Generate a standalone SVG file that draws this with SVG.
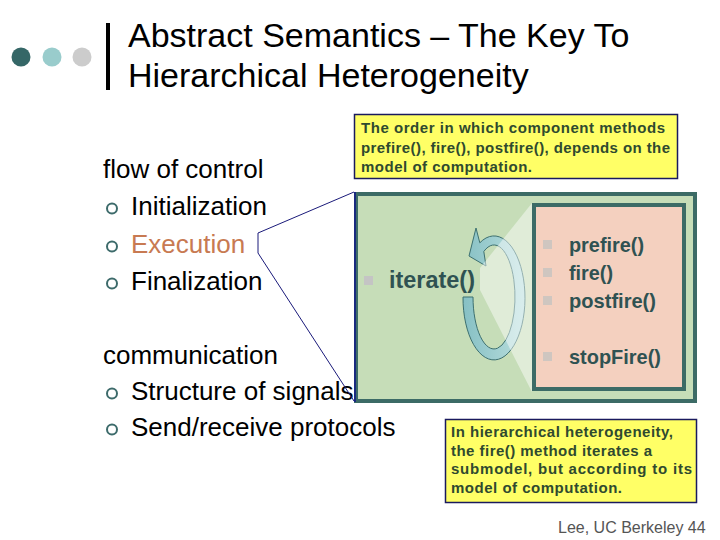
<svg xmlns="http://www.w3.org/2000/svg" width="720" height="540" viewBox="0 0 720 540">
<defs>
<style>
.title{font-family:"Liberation Sans",Arial,sans-serif;font-size:34px;fill:#000}
.body{font-family:"Liberation Sans",Arial,sans-serif;font-size:26px;fill:#000}
.note{font-family:"Liberation Sans",Arial,sans-serif;font-size:15px;font-weight:bold;fill:#2f4a2f}
.meth{font-family:"Liberation Sans",Arial,sans-serif;font-size:21px;font-weight:bold;fill:#2f5252}
.bul{fill:none;stroke:#3d6b6b;stroke-width:2}
.sq{fill:#c4c4c4}
.psq{fill:#cfc6c0}
.yel{fill:#ffff66;stroke:#1a1a5e;stroke-width:1.5}
.conn{fill:none;stroke:#1a1a7a;stroke-width:1}
</style>
<linearGradient id="ringGrad" x1="0" y1="0" x2="1" y2="0">
<stop offset="0" stop-color="#86c0c4"/>
<stop offset="1" stop-color="#b9dedd"/>
</linearGradient>
</defs>
<rect width="720" height="540" fill="#fff"/>
<g id="header">
<circle cx="21" cy="57" r="9.5" fill="#356767"/>
<circle cx="52" cy="57" r="9.5" fill="#99cccc"/>
<circle cx="82" cy="57" r="9.5" fill="#cccccc"/>
<rect x="106" y="23" width="4" height="67" fill="#000"/>
<text class="title" x="128" y="47">Abstract Semantics – The Key To</text>
<text class="title" x="128" y="87">Hierarchical Heterogeneity</text>
</g>
<g id="left-list">
<text class="body" x="103" y="178">flow of control</text>
<circle class="bul" cx="112" cy="208.5" r="5"/>
<text class="body" x="131" y="215">Initialization</text>
<circle class="bul" cx="112" cy="246.5" r="5"/>
<text class="body" x="131" y="253" style="fill:#c87a52">Execution</text>
<circle class="bul" cx="112" cy="283.5" r="5"/>
<text class="body" x="131" y="290">Finalization</text>
<text class="body" x="103" y="364">communication</text>
<circle class="bul" cx="112" cy="393.5" r="5"/>
<text class="body" x="131" y="400">Structure of signals</text>
<circle class="bul" cx="112" cy="429.5" r="5"/>
<text class="body" x="131" y="436">Send/receive protocols</text>
</g>
<g id="model-box">
<rect x="356" y="194" width="339" height="207" fill="#c6ddb8" stroke="#3c6b66" stroke-width="4"/>
<line x1="355" y1="192" x2="355" y2="402" stroke="#1a2a80" stroke-width="2"/>
<rect class="sq" x="364" y="276" width="9" height="9"/>
<text x="389" y="288" style="font-family:'Liberation Sans',Arial,sans-serif;font-size:24px;font-weight:bold;fill:#2f5252" textLength="86" lengthAdjust="spacingAndGlyphs">iterate()</text>
</g>
<g id="iterate-cycle">
<path d="M 463 297 A 31 62 0 1 0 479.8 242.8 L 476 228 L 469 256 L 486 266 L 483.8 251.5 A 21 52 0 1 1 473 297 Z" fill="url(#ringGrad)" stroke="#3d7070" stroke-width="1"/>
<polygon points="532,203 480,268 480,290 532,392" fill="#ffffff" fill-opacity="0.45"/>
</g>
<g id="methods-box">
<rect x="534" y="205" width="150" height="184" fill="#f4d0bf" stroke="#3c6b66" stroke-width="4"/>
<rect class="psq" x="543" y="240" width="9" height="9"/>
<text class="meth" x="569" y="252" textLength="75" lengthAdjust="spacingAndGlyphs">prefire()</text>
<rect class="psq" x="543" y="268" width="9" height="9"/>
<text class="meth" x="569" y="280" textLength="44" lengthAdjust="spacingAndGlyphs">fire()</text>
<rect class="psq" x="543" y="296" width="9" height="9"/>
<text class="meth" x="569" y="308" textLength="87" lengthAdjust="spacingAndGlyphs">postfire()</text>
<rect class="psq" x="543" y="352" width="9" height="9"/>
<text class="meth" x="569" y="364" textLength="92" lengthAdjust="spacingAndGlyphs">stopFire()</text>
</g>
<g id="note-order">
<rect class="yel" x="354.5" y="114.5" width="323" height="64"/>
<text class="note" x="361" y="133" textLength="304" lengthAdjust="spacing">The order in which component methods</text>
<text class="note" x="361" y="152.5" textLength="309" lengthAdjust="spacing">prefire(), fire(), postfire(), depends on the</text>
<text class="note" x="361" y="172" textLength="171" lengthAdjust="spacing">model of computation.</text>
</g>
<g id="note-hier">
<rect class="yel" x="445.5" y="419.5" width="251" height="83"/>
<text class="note" x="451" y="437" textLength="222" lengthAdjust="spacing">In hierarchical heterogeneity,</text>
<text class="note" x="451" y="455.5" textLength="201" lengthAdjust="spacing">the fire() method iterates a</text>
<text class="note" x="451" y="474" textLength="241" lengthAdjust="spacing">submodel, but according to its</text>
<text class="note" x="451" y="493" textLength="171" lengthAdjust="spacing">model of computation.</text>
</g>
<g id="connectors">
<polyline class="conn" points="354,192 258,233 258,253 354,401"/>
</g>
<g id="footer">
<text x="558" y="533" style="font-family:'Liberation Sans',Arial,sans-serif;font-size:16px;fill:#555">Lee, UC Berkeley 44</text>
</g>
</svg>
